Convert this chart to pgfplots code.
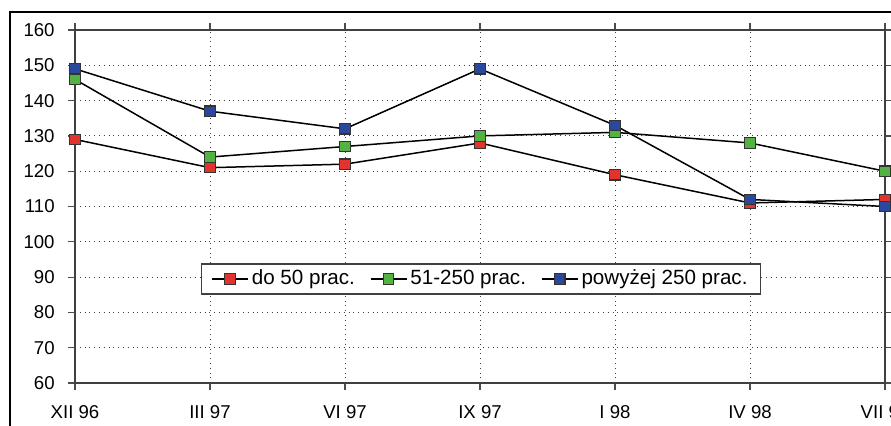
\documentclass[border=0pt]{standalone}
\usepackage{fontspec}
\setmainfont{Liberation Sans}
\usepackage{pgfplots}
\pgfplotsset{compat=1.18}
\definecolor{cred}{RGB}{226,52,44}
\definecolor{cgreen}{RGB}{82,178,66}
\definecolor{cblue}{RGB}{42,72,156}
\begin{document}
\begin{tikzpicture}[x=1pt,y=1pt]
\begin{axis}[
  at={(0,0)}, anchor=south west,
  scale only axis, width=405pt, height=176.5pt,
  xmin=0, xmax=6, ymin=60, ymax=160,
  xtick={0,...,6},
  xticklabels={XII 96,III 97,VI 97,IX 97,I 98,IV 98,VII 98},
  ytick={60,70,...,160},
  grid=major,
  major grid style={black!75, dotted, line width=0.45pt},
  tick align=outside, major tick length=3.5pt,
  tick style={black!70, line width=0.6pt},
  axis line style={black!75, line width=0.75pt},
  ticklabel style={font=\fontsize{9.3}{11}\selectfont},
  /pgf/number format/assume math mode=true,
  yticklabel style={inner sep=0pt, xshift=-6.5pt},
  xticklabel style={inner sep=0pt, yshift=-7.5pt},
  every axis plot/.append style={black, line width=0.75pt, mark=square*, mark size=2.6pt},
  legend style={at={(axis cs:3.007,89.46)}, anchor=center, legend columns=3,
    draw=black!75, line width=0.6pt, font=\fontsize{10.3}{12}\selectfont,
    inner xsep=5pt, inner ysep=1pt,
    nodes={inner xsep=1.5pt, inner ysep=2pt},
    /tikz/every even column/.append style={column sep=6pt}},
  legend cell align=left,
  legend image code/.code={\draw[mark repeat=2,mark phase=2,#1] plot coordinates {(0pt,0pt)(9pt,0pt)(18pt,0pt)};},
]
\addplot[mark options={draw=black!80, fill=cred, line width=0.6pt}] coordinates {(0,129)(1,121)(2,122)(3,128)(4,119)(5,111)(6,112)};
\addlegendentry{do 50 prac.}
\addplot[mark options={draw=black!80, fill=cgreen, line width=0.6pt}] coordinates {(0,146)(1,124)(2,127)(3,130)(4,131)(5,128)(6,120)};
\addlegendentry{51-250 prac.}
\addplot[mark options={draw=black!80, fill=cblue, line width=0.6pt}] coordinates {(0,149)(1,137)(2,132)(3,149)(4,133)(5,112)(6,110)};
\addlegendentry{powyżej 250 prac.}
\end{axis}
\draw[black, line width=1pt] (-32.5,-40) -- (-32.5,185.5) -- (440,185.5);
\pgfresetboundingbox
\path[use as bounding box] (-37.5,-21) rectangle (408,191.5);
\end{tikzpicture}
\end{document}
